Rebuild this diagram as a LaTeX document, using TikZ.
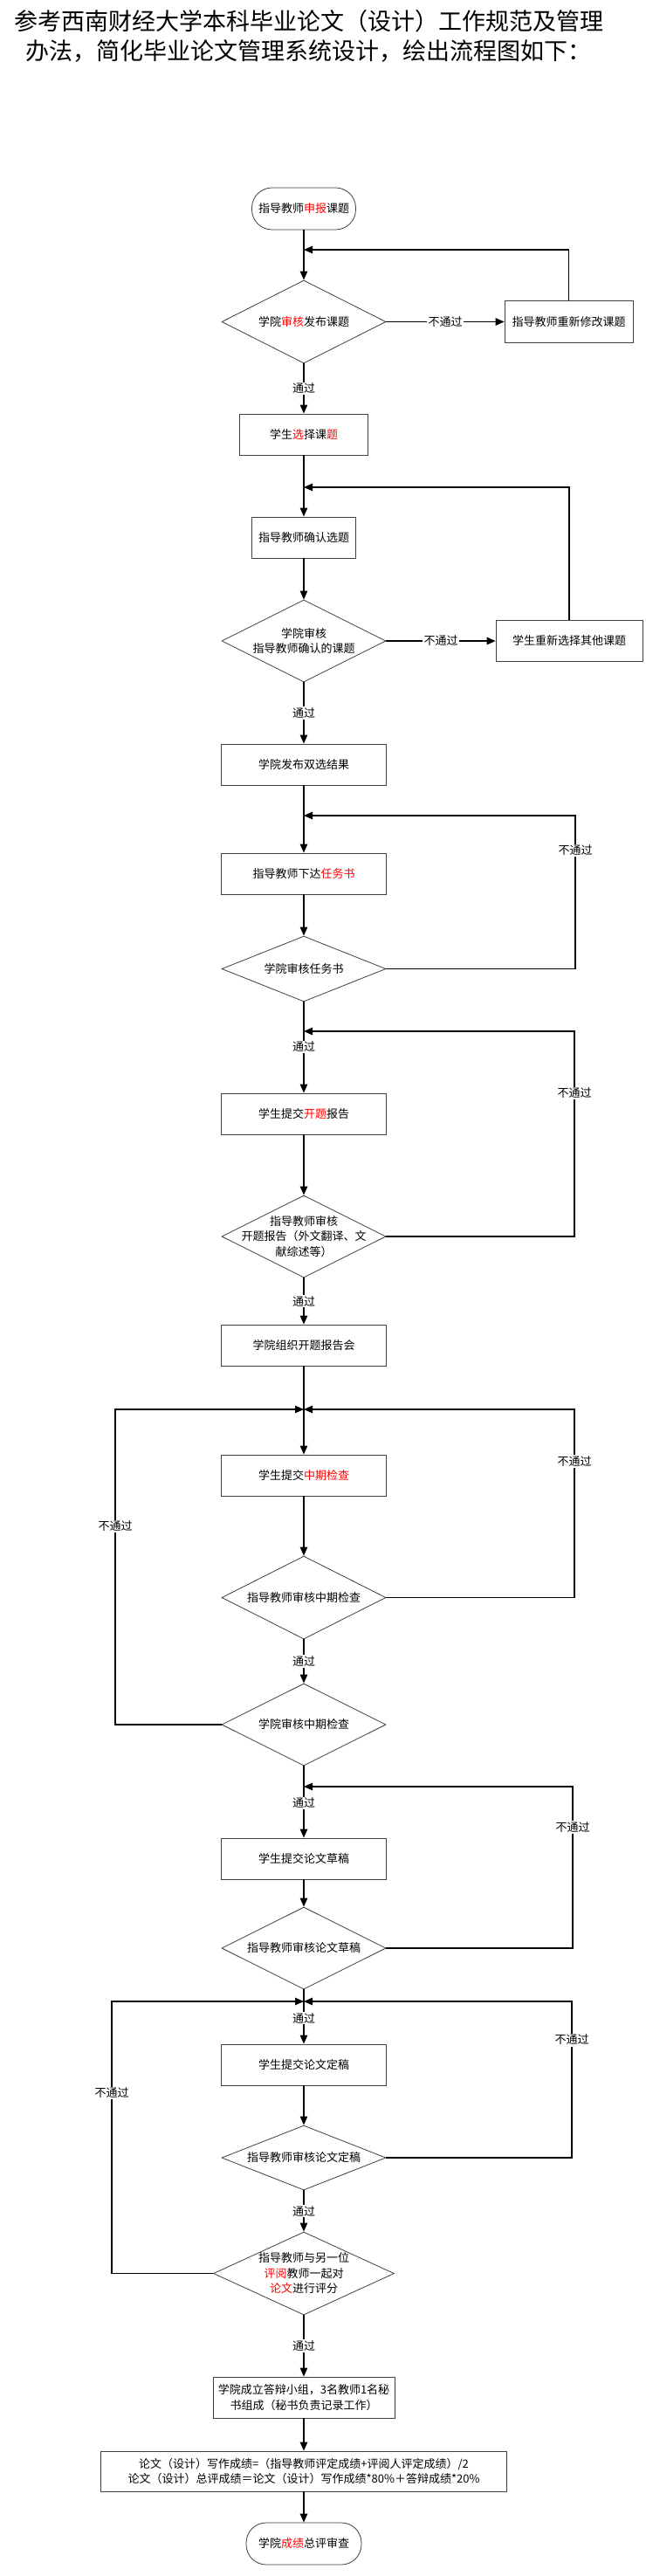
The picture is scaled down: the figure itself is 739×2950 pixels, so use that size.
\documentclass[tikz,border=0pt]{standalone}
\usepackage{fontspec}
\setmainfont{Noto Sans CJK SC}
\usetikzlibrary{shapes.geometric,arrows.meta}
\newcommand{\hl}[1]{\textcolor{red}{#1}}
\begin{document}
\begin{tikzpicture}[x=1pt,y=-1pt,
 every node/.style={font=\fontsize{13}{17.5}\selectfont,inner sep=0pt},
 shp/.style={draw=black!75,line width=0.8pt,fill=white},
 box/.style={shp,rectangle,minimum width=#1,minimum height=47pt,align=center},
 term/.style={shp,rectangle,rounded corners=23pt,minimum width=#1,minimum height=48pt,align=center},
 diam/.style 2 args={shp,diamond,minimum width=#1,minimum height=#2},
 dtext/.style={align=center},
 carrow/.style={line width=1.2pt,-{Triangle[length=10pt,width=8.5pt]}},
 lbl/.style={fill=white,inner sep=1.5pt},
 ttl/.style={anchor=base west,font=\fontsize{27}{33}\selectfont}
]
\fill[white] (0,0) rectangle (739,2950);
\useasboundingbox (0,0) rectangle (739,2950);

\node[ttl] (t1) at (16,34.5) {参考西南财经大学本科毕业论文（设计）工作规范及管理};
\node[ttl] (t2) at (29,68) {办法，简化毕业论文管理系统设计，绘出流程图如下：};

\node[term=119pt] (s1) at (348,239) {指导教师\hl{申报}课题};
\coordinate (m1) at (348,286);
\node[diam={188pt}{95pt}] (d1) at (348,368.5) {};
\node[dtext] (d1t) at (d1) {学院\hl{审核}发布课题};
\node[box=147pt,minimum height=48pt] (r1) at (651.5,368.5) {指导教师重新修改课题};
\node[box=147pt] (b1) at (348,497.5) {学生\hl{选}择课\hl{题}};
\coordinate (m2) at (348,558);
\node[box=119pt] (b2) at (348,615.5) {指导教师确认选题};
\node[diam={188pt}{94pt}] (d2) at (348,734) {};
\node[dtext] (d2t) at (d2) {学院审核\\指导教师确认的课题};
\node[box=168pt] (r2) at (652,734) {学生重新选择其他课题};
\node[box=189pt] (b3) at (348,875.5) {学院发布双选结果};
\coordinate (m3) at (348,934);
\coordinate (c3) at (659,934);
\node[box=189pt] (b4) at (348,1000.5) {指导教师下达\hl{任务书}};
\node[diam={188pt}{75pt}] (d3) at (348,1109.5) {};
\node[dtext] (d3t) at (d3) {学院审核任务书};
\coordinate (m4) at (348,1181);
\coordinate (c4) at (658,1181);
\node[box=189pt] (b5) at (348,1275.5) {学生提交\hl{开题}报告};
\node[diam={188pt}{94pt}] (d4) at (348,1416) {};
\node[dtext] (d4t) at (d4) {指导教师审核\\开题报告（外文翻译、文\\献综述等）};
\node[box=189pt] (b6) at (348,1540.5) {学院组织开题报告会};
\coordinate (m5) at (348,1614);
\coordinate (c5r) at (658,1614);
\coordinate (c5l) at (132,1614);
\node[box=189pt] (b7) at (348,1689.5) {学生提交\hl{中期检查}};
\node[diam={188pt}{95pt}] (d5) at (348,1829.5) {};
\node[dtext] (d5t) at (d5) {指导教师审核中期检查};
\node[diam={188pt}{94pt}] (d6) at (348,1975) {};
\node[dtext] (d6t) at (d6) {学院审核中期检查};
\coordinate (m6) at (348,2046);
\coordinate (c6) at (656,2046);
\node[box=189pt] (b8) at (348,2128.5) {学生提交论文草稿};
\node[diam={188pt}{94pt}] (d7) at (348,2231) {};
\node[dtext] (d7t) at (d7) {指导教师审核论文草稿};
\coordinate (m7) at (348,2292);
\coordinate (c7r) at (655,2292);
\coordinate (c7l) at (128,2292);
\node[box=189pt] (b9) at (348,2364.5) {学生提交论文定稿};
\node[diam={188pt}{74pt}] (d8) at (348,2471) {};
\node[dtext] (d8t) at (d8) {指导教师审核论文定稿};
\node[diam={207pt}{95pt}] (d9) at (348,2603.5) {};
\node[dtext] (d9t) at (d9) {指导教师与另一位\\\hl{评阅}教师一起对\\\hl{论文}进行评分};
\node[box=208pt] (b10) at (348,2745.5) {学院成立答辩小组，3名教师1名秘\\书组成（秘书负责记录工作）};
\node[box=465pt,minimum height=46pt] (b11) at (348,2830) {论文（设计）写作成绩=（指导教师评定成绩+评阅人评定成绩）/2\\论文（设计）总评成绩＝论文（设计）写作成绩*80\%＋答辩成绩*20\%};
\node[term=132pt] (e1) at (348,2913) {学院\hl{成绩}总评审查};

\draw[carrow] (s1.south) -- (d1.north);
\draw[carrow] (d1.east) -- node[lbl]{不通过} (r1.west);
\draw[carrow] (r1.north) |- (m1);
\draw[carrow] (d1.south) -- node[lbl]{通过} (b1.north);
\draw[carrow] (b1.south) -- (b2.north);
\draw[carrow] (r2.north) |- (m2);
\draw[carrow] (b2.south) -- (d2.north);
\draw[carrow] (d2.east) -- node[lbl]{不通过} (r2.west);
\draw[carrow] (d2.south) -- node[lbl]{通过} (b3.north);
\draw[carrow] (b3.south) -- (b4.north);
\draw[carrow] (b4.south) -- (d3.north);
\draw[carrow] (d3.east) -- (d3.east -| c3) -- node[lbl,pos=0.772]{不通过} (c3) -- (m3);
\draw[carrow] (d3.south) -- node[lbl,pos=0.495]{通过} (b5.north);
\draw[carrow] (b5.south) -- (d4.north);
\draw[carrow] (d4.east) -- (d4.east -| c4) -- node[lbl,pos=0.698]{不通过} (c4) -- (m4);
\draw[carrow] (d4.south) -- node[lbl]{通过} (b6.north);
\draw[carrow] (b6.south) -- (b7.north);
\draw[carrow] (b7.south) -- (d5.north);
\draw[carrow] (d5.east) -- (d5.east -| c5r) -- node[lbl,pos=0.722]{不通过} (c5r) -- (m5);
\draw[carrow] (d5.south) -- node[lbl]{通过} (d6.north);
\draw[carrow] (d6.west) -- (d6.west -| c5l) -- node[lbl,pos=0.629]{不通过} (c5l) -- (m5);
\draw[carrow] (d6.south) -- node[lbl,pos=0.518]{通过} (b8.north);
\draw[carrow] (b8.south) -- (d7.north);
\draw[carrow] (d7.east) -- (d7.east -| c6) -- node[lbl,pos=0.751]{不通过} (c6) -- (m6);
\draw[carrow] (d7.south) -- node[lbl,pos=0.524]{通过} (b9.north);
\draw[carrow] (b9.south) -- (d8.north);
\draw[carrow] (d8.east) -- (d8.east -| c7r) -- node[lbl,pos=0.754]{不通过} (c7r) -- (m7);
\draw[carrow] (d8.south) -- node[lbl]{通过} (d9.north);
\draw[carrow] (d9.west) -- (d9.west -| c7l) -- node[lbl,pos=0.663]{不通过} (c7l) -- (m7);
\draw[carrow] (d9.south) -- node[lbl]{通过} (b10.north);
\draw[carrow] (b10.south) -- (b11.north);
\draw[carrow] (b11.south) -- (e1.north);
\end{tikzpicture}
\end{document}
